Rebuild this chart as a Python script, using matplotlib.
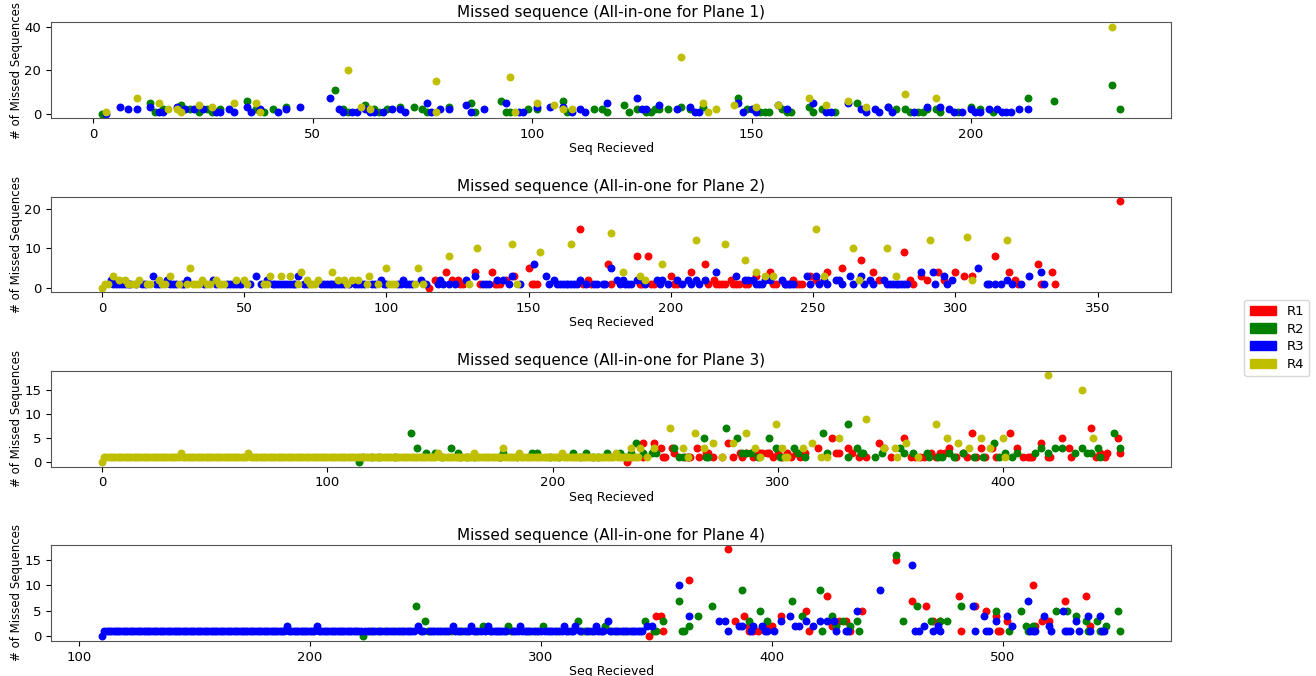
import numpy as np
import matplotlib
matplotlib.use("Agg")
from matplotlib import pyplot as plt
from matplotlib.ticker import MultipleLocator
import matplotlib.patches as mpatches

# each list holds (seq received, missed sequences) pairs

# ---------------- Plane 1 ----------------
p1_r2 = [(2, 0), (13, 5), (14, 1), (16, 2), (20, 4), (22, 2), (24, 1), (26, 2), (27, 1), (29, 2),
         (35, 6), (37, 2), (39, 1), (41, 2), (44, 3), (55, 11), (57, 2), (58, 1), (62, 4), (64, 2),
         (65, 1), (67, 2), (70, 3), (73, 3), (75, 2), (76, 1), (81, 3), (86, 5), (87, 1), (93, 6),
         (94, 1), (95, 1), (99, 2), (101, 2), (107, 6), (108, 1), (114, 2), (116, 2), (117, 1),
         (121, 4), (122, 1), (124, 2), (127, 1), (129, 2), (126, 1), (128, 2), (131, 2), (134, 3),
         (136, 2), (139, 3), (147, 7), (149, 2), (152, 1), (153, 1), (154, 1), (157, 2), (158, 1),
         (159, 1), (163, 3), (164, 1), (166, 2), (169, 1), (174, 5), (181, 3), (183, 2), (185, 2),
         (186, 1), (188, 1), (189, 1), (190, 2), (192, 2), (193, 1), (197, 1), (200, 3), (202, 2),
         (205, 1), (213, 7), (219, 6), (232, 13), (234, 2)]
p1_r3 = [(3, 0), (6, 3), (8, 2), (10, 2), (13, 3), (15, 1), (16, 1), (19, 3), (21, 2), (23, 2),
         (25, 2), (28, 1), (29, 1), (31, 2), (32, 1), (35, 3), (36, 1), (38, 2), (42, 1), (44, 2),
         (47, 3), (54, 7), (56, 2), (57, 1), (59, 1), (60, 1), (62, 2), (63, 1), (64, 1), (66, 1),
         (68, 2), (70, 2), (71, 1), (76, 5), (77, 1), (79, 2), (81, 2), (85, 4), (86, 1), (89, 2),
         (94, 5), (97, 1), (98, 1), (101, 3), (104, 3), (107, 3), (109, 1), (111, 2), (112, 1),
         (117, 5), (124, 7), (125, 2), (126, 2), (129, 4), (133, 2), (136, 3), (137, 1), (138, 1),
         (147, 5), (148, 1), (150, 2), (151, 1), (156, 4), (158, 2), (164, 5), (167, 1), (168, 1),
         (172, 5), (175, 2), (176, 1), (178, 2), (179, 1), (181, 3), (182, 1), (187, 1), (190, 3),
         (193, 3), (195, 2), (196, 1), (198, 1), (200, 2), (201, 1), (202, 1), (204, 2), (206, 2),
         (207, 1), (208, 1), (209, 1), (211, 2), (213, 2)]
p1_r4 = [(3, 1), (10, 7), (15, 5), (17, 2), (19, 2), (20, 1), (24, 4), (27, 3), (32, 5), (37, 5),
         (38, 1), (58, 20), (61, 3), (63, 2), (78, 15), (78, 1), (95, 17), (96, 1), (101, 5),
         (105, 4), (107, 2), (109, 2), (134, 26), (139, 5), (140, 1), (142, 2), (146, 4), (151, 3),
         (156, 4), (163, 7), (167, 4), (172, 6), (176, 3), (185, 9), (192, 7), (232, 40)]

# ---------------- Plane 2 ----------------
p2_r1 = [(115, 0), (117, 2), (121, 4), (123, 2), (125, 2), (126, 1), (127, 1), (131, 4), (133, 1),
         (137, 4), (138, 1), (139, 1), (140, 1), (142, 2), (145, 3), (150, 5), (151, 1), (152, 1),
         (153, 1), (168, 15), (169, 1), (171, 2), (172, 1), (178, 6), (179, 1), (188, 8), (189, 1),
         (190, 1), (192, 8), (193, 1), (194, 1), (200, 3), (201, 1), (202, 1), (207, 4), (212, 6),
         (213, 1), (215, 2), (216, 1), (217, 1), (218, 1), (219, 1), (221, 2), (222, 1), (223, 1),
         (224, 1), (226, 1), (227, 1), (230, 3), (235, 4), (236, 1), (237, 1), (240, 1), (243, 2),
         (244, 1), (245, 1), (246, 1), (249, 3), (251, 2), (255, 4), (260, 5), (267, 7), (271, 4),
         (273, 2), (282, 9), (284, 2), (285, 1), (288, 3), (290, 2), (294, 4), (296, 2), (300, 4),
         (303, 3), (306, 3), (314, 8), (319, 4), (321, 2), (322, 1), (329, 6), (330, 1), (334, 4),
         (335, 1), (358, 22)]
p2_r3 = [(3, 2), (18, 3), (23, 2), (30, 2), (39, 2), (54, 3), (58, 2), (69, 3), (98, 2), (106, 2),
         (112, 2), (119, 2), (128, 2), (131, 3), (139, 2), (141, 2), (144, 3), (152, 6), (156, 3),
         (159, 2), (168, 2), (179, 5), (181, 2), (183, 2), (188, 2), (190, 2), (195, 2), (197, 2),
         (202, 2), (206, 2), (209, 2), (212, 2), (216, 4), (223, 3), (226, 2), (227, 2), (229, 2),
         (233, 2), (235, 2), (239, 2), (248, 3), (251, 3), (254, 2), (258, 2), (259, 2), (263, 3),
         (267, 3), (270, 2), (275, 2), (288, 4), (292, 4), (296, 3), (299, 2), (308, 5), (318, 2),
         (326, 3), (330, 4)]
# R3 sequences with a single missed sequence
p2_r3_ones = [4, 5, 6, 7, 8, 9, 10, 12, 14, 15, 19, 20, 24, 25, 26, 28, 29, 36, 40, 44, 45, 46, 47,
              48, 49, 52, 56, 60, 61, 62, 63, 64, 65, 66, 67, 68, 71, 72, 77, 78, 79, 80, 81, 82,
              83, 84, 85, 87, 89, 90, 91, 92, 95, 96, 99, 100, 104, 105, 107, 108, 109, 114, 118,
              120, 122, 124, 134, 135, 136, 143, 147, 157, 160, 161, 162, 163, 164, 165, 166, 167,
              170, 173, 174, 176, 177, 182, 184, 185, 186, 191, 196, 199, 204, 207, 210, 230, 231,
              232, 240, 241, 242, 243, 249, 252, 255, 260, 264, 268, 271, 276, 277, 278, 279, 280,
              281, 282, 283, 293, 297, 311, 312, 314, 316, 320, 323, 331]
p2_r4 = [(0, 0), (4, 3), (6, 2), (8, 2), (13, 2), (20, 2), (24, 3), (31, 5), (35, 2), (40, 2),
         (47, 2), (50, 2), (59, 3), (63, 3), (66, 3), (70, 4), (72, 2), (76, 2), (81, 4), (83, 2),
         (85, 2), (88, 2), (90, 2), (94, 3), (100, 5), (111, 5), (122, 8), (132, 10), (144, 11),
         (154, 9), (165, 11), (179, 14), (183, 4), (189, 3), (191, 2), (197, 6), (209, 12),
         (219, 11), (226, 7), (230, 4), (233, 3), (236, 3), (251, 15), (254, 3), (264, 10),
         (266, 2), (276, 10), (279, 3), (291, 12), (304, 13), (306, 2), (318, 12)]
p2_r4_ones = [1, 2, 9, 11, 12, 16, 17, 21, 22, 27, 30, 32, 33, 34, 37, 38, 41, 42, 43, 51, 57, 58,
              69, 73, 74, 75, 86, 93, 97, 101, 102, 103, 110, 113, 129, 146]

# ---------------- Plane 3 ----------------
p3_r1 = [(233, 0), (235, 1), (240, 1), (240, 4), (245, 4), (248, 3), (249, 1), (250, 1), (253, 3),
         (254, 2), (259, 1), (260, 1), (261, 1), (264, 3), (265, 1), (268, 2), (269, 2), (271, 1),
         (275, 1), (278, 4), (280, 1), (283, 2), (284, 1), (286, 2), (288, 2), (289, 1), (291, 2),
         (292, 2), (293, 2), (295, 2), (296, 2), (298, 1), (300, 2), (302, 1), (304, 2), (306, 1),
         (308, 2), (310, 1), (312, 2), (318, 3), (324, 5), (326, 2), (327, 2), (331, 3), (333, 2),
         (336, 1), (339, 1), (345, 4), (347, 3), (350, 1), (356, 5), (359, 1), (361, 1), (363, 1),
         (365, 1), (368, 2), (370, 1), (372, 2), (374, 2), (376, 3), (379, 1), (382, 2), (384, 1),
         (386, 6), (388, 1), (390, 3), (392, 1), (395, 3), (397, 1), (403, 6), (406, 3), (409, 1),
         (411, 1), (412, 1), (413, 1), (417, 4), (420, 1), (421, 1), (426, 5), (429, 3), (430, 1),
         (439, 7), (441, 1), (443, 2), (445, 1), (446, 2), (451, 5), (452, 2)]
p3_r2 = [(114, 0), (116, 1), (120, 1), (123, 1), (130, 1), (137, 6), (140, 3), (144, 2), (148, 2),
         (151, 1), (155, 3), (158, 2), (159, 1), (162, 1), (165, 1), (176, 1), (177, 1), (178, 2),
         (184, 1), (191, 2), (193, 2), (199, 1), (203, 1), (209, 2), (212, 1), (215, 2), (218, 1),
         (220, 1), (224, 2), (230, 2), (232, 1), (235, 2), (237, 4), (240, 2), (244, 2), (246, 2),
         (254, 3), (256, 1), (258, 1), (260, 1), (267, 5), (268, 1), (269, 1), (277, 7), (282, 5),
         (284, 2), (286, 2), (288, 2), (291, 1), (296, 5), (299, 3), (301, 1), (307, 3), (309, 2),
         (312, 1), (320, 6), (322, 2), (331, 8), (331, 1), (335, 3), (337, 2), (338, 2), (343, 1),
         (346, 2), (354, 3), (356, 2), (360, 2), (366, 2), (367, 1), (371, 1), (373, 1), (376, 2),
         (378, 1), (382, 2), (387, 1), (391, 1), (396, 4), (398, 1), (401, 2), (404, 1), (406, 2),
         (414, 2), (417, 3), (420, 2), (423, 3), (426, 3), (432, 2), (435, 3), (437, 2), (439, 2),
         (442, 3), (443, 1), (449, 6), (452, 3)]
p3_r4 = [(0, 0), (35, 2), (65, 2), (149, 2), (165, 2), (178, 3), (185, 2), (204, 2), (228, 2),
         (235, 3), (239, 3), (245, 3), (252, 7), (258, 3), (263, 6), (267, 3), (271, 4), (280, 4),
         (286, 6), (290, 3), (299, 8), (302, 3), (311, 3), (315, 4), (327, 5), (339, 9), (347, 3),
         (352, 3), (357, 4), (370, 8), (375, 5), (380, 4), (385, 3), (390, 5), (394, 3), (400, 5),
         (420, 18), (435, 15), (440, 5), (242, 1), (260, 1), (275, 1), (292, 1), (303, 1),
         (304, 1), (319, 1), (322, 1), (353, 1), (362, 1), (401, 1)]
p3_r4_run = (1, 238)      # unbroken run of R4 sequences with 1 missed

# ---------------- Plane 4 ----------------
p4_r1 = [(347, 0), (350, 4), (352, 4), (353, 1), (364, 11), (381, 17), (384, 3), (388, 4), (390, 2),
         (390, 1), (392, 1), (394, 1), (398, 2), (400, 2), (404, 4), (415, 5), (416, 1), (424, 8),
         (426, 2), (429, 3), (432, 3), (434, 1), (439, 5), (454, 15), (461, 7), (467, 6), (470, 3),
         (473, 3), (481, 8), (482, 1), (488, 6), (493, 5), (497, 4), (498, 1), (499, 1), (502, 3),
         (513, 10), (514, 2), (517, 3), (520, 3), (527, 7), (536, 8), (538, 2)]
p4_r2 = [(223, 0), (226, 1), (229, 1), (232, 1), (236, 1), (239, 1), (246, 6), (250, 3), (251, 1),
         (256, 1), (259, 1), (261, 1), (266, 1), (268, 1), (273, 1), (275, 2), (286, 2), (287, 1),
         (296, 1), (298, 1), (301, 2), (307, 1), (316, 3), (318, 1), (319, 1), (321, 1), (328, 2),
         (331, 1), (334, 1), (338, 1), (345, 3), (349, 1), (350, 1), (353, 3), (360, 7), (361, 1),
         (362, 1), (364, 2), (368, 4), (374, 6), (387, 9), (390, 3), (395, 5), (398, 3), (409, 7),
         (413, 4), (421, 9), (422, 1), (426, 4), (428, 2), (431, 3), (434, 2), (437, 3), (438, 1),
         (454, 16), (457, 3), (463, 6), (469, 3), (473, 3), (476, 3), (482, 6), (497, 5), (503, 1),
         (508, 5), (510, 2), (511, 1), (513, 2), (523, 5), (528, 5), (532, 4), (536, 3), (537, 1),
         (541, 3), (542, 1), (545, 2), (550, 5), (551, 1)]
p4_r3 = [(110, 0), (190, 2), (203, 2), (247, 2), (262, 2), (270, 2), (277, 2), (291, 2), (310, 2),
         (315, 2), (324, 2), (329, 3), (346, 2), (348, 2), (360, 10), (364, 4), (377, 3), (380, 3),
         (381, 1), (386, 2), (387, 2), (391, 1), (392, 2), (396, 2), (397, 1), (398, 1), (401, 1),
         (404, 3), (408, 4), (410, 2), (412, 2), (415, 3), (418, 2), (421, 3), (424, 3), (427, 3),
         (428, 1), (432, 1), (433, 1), (437, 5), (447, 9), (461, 14), (462, 1), (464, 1), (466, 2),
         (470, 1), (472, 2), (473, 1), (487, 6), (488, 1), (492, 4), (493, 1), (494, 1), (497, 3),
         (502, 4), (504, 2), (511, 7), (512, 1), (513, 1), (514, 1), (518, 4), (520, 2), (521, 1),
         (526, 5), (527, 1), (528, 1), (529, 1), (532, 3), (533, 1), (537, 4), (538, 1), (542, 4),
         (543, 1), (544, 1)]
p4_r3_run = (111, 344)    # unbroken run of R3 sequences with 1 missed

colors = ['r', 'g', 'b', 'y']
names = ['R1', 'R2', 'R3', 'R4']


def xy(pairs, ones=(), run=None, skip=()):
    xs = [p[0] for p in pairs] + list(ones)
    ys = [p[1] for p in pairs] + [1] * len(ones)
    if run is not None:
        taken = set(p[0] for p in pairs) | set(skip)
        extra = [v for v in range(run[0], run[1] + 1) if v not in taken]
        xs += extra
        ys += [1] * len(extra)
    return xs, ys


p4_r2_x = [p[0] for p in p4_r2]
planes = [
    [None, xy(p1_r2), xy(p1_r3), xy(p1_r4)],
    [xy(p2_r1), None, xy(p2_r3, p2_r3_ones), xy(p2_r4, p2_r4_ones)],
    [xy(p3_r1), xy(p3_r2), None, xy(p3_r4, run=p3_r4_run)],
    [xy(p4_r1), xy(p4_r2), xy(p4_r3, run=p4_r3_run, skip=p4_r2_x), None],
]

fig, axes = plt.subplots(4, 1, figsize=(13.16, 6.76), dpi=100)
fig.subplots_adjust(left=0.0388, right=0.89, top=0.967, bottom=0.052, hspace=0.82)

for i, (ax, series) in enumerate(zip(axes, planes)):
    for c, s in zip(colors, series):
        if s is None:
            continue
        ax.scatter(s[0], s[1], s=22, color=c)
    ax.set_title("Missed sequence (All-in-one for Plane %d)" % (i + 1), fontsize=11, pad=4)
    ax.set_xlabel("Seq Recieved", fontsize=9, labelpad=1)
    ax.set_ylabel("# of Missed Sequences", fontsize=8.5)
    ax.yaxis.set_label_coords(-0.025, 0.5)
    ax.tick_params(labelsize=9.5)
    if i >= 2:
        ax.yaxis.set_major_locator(MultipleLocator(5))
    for sp in ax.spines.values():
        sp.set_color('#555555')

handles = [mpatches.Patch(color=c, label=n) for c, n in zip(colors, names)]
fig.legend(handles=handles, loc='center right', bbox_to_anchor=(1.0, 0.5), fontsize=9.5,
           labelspacing=0.35, handlelength=2.0)

plt.savefig("out.png")
